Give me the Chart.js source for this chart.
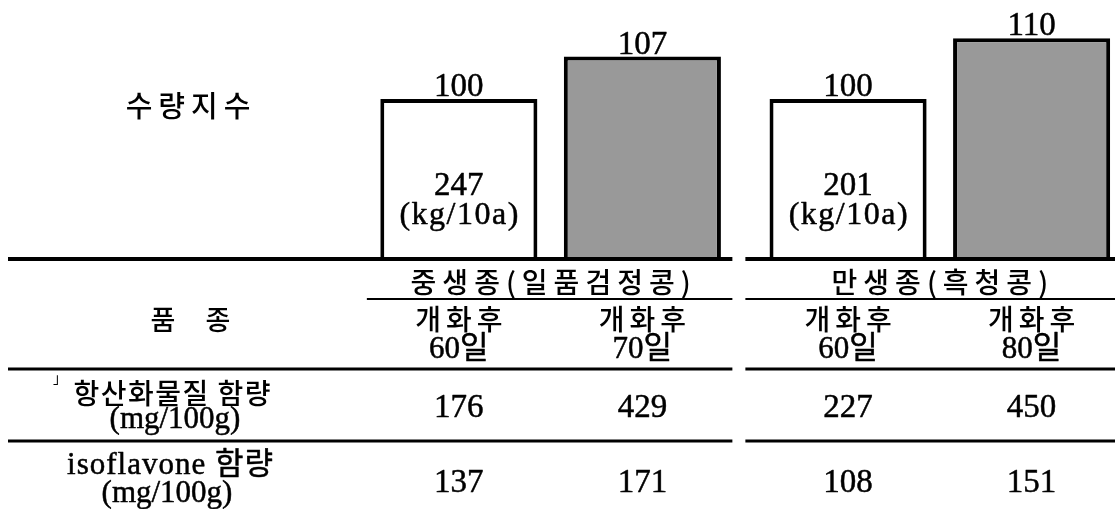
<!DOCTYPE html>
<html>
<head>
<meta charset="utf-8">
<script src="https://cdn.jsdelivr.net/npm/chart.js@4.4.1/dist/chart.umd.min.js"></script>
<style>
  html, body { margin: 0; padding: 0; background: #ffffff; overflow: hidden; }
  #wrap { width: 1115px; height: 509px; position: relative; }
  canvas { display: block; }
</style>
</head>
<body>
<div id="wrap"><canvas id="chart" width="1115" height="509"></canvas></div>
<script>
// Varieties (groups) and harvest stages
const groups = ['중생종(일품검정콩)', '만생종(흑청콩)'];
const stageEarly = ['60일', '60일'];
const stageLate = ['70일', '80일'];
const stagePrefix = '개화후';

// Yield index (early harvest = 100)
const yieldIndexEarly = [100, 100];
const yieldIndexLate = [107, 110];

// Actual yield of the early harvest
const yieldEarly = [247, 201];
const yieldUnit = '(kg/10a)';

// Table rows
const yieldTitle = '수량지수';
const varietyTitle = ['품', '종'];
const antioxLabel = ['항산화물질 함량', '(mg/100g)'];
const antioxEarly = [176, 227];
const antioxLate = [429, 450];
const isoLabel = ['isoflavone 함량', '(mg/100g)'];
const isoEarly = [137, 108];
const isoLate = [171, 151];

const SERIF = '"Liberation Serif", "Noto Sans CJK KR", serif';
const KR = '"Noto Sans CJK KR", "Liberation Serif", sans-serif';
const INK = '#000000';

// Centered text; "heavy" adds a thin outline to darken the serif strokes
function drawText(ctx, str, x, y, size, family, spacing, opts) {
  const o = opts || {};
  ctx.save();
  ctx.font = (o.weight || 'normal') + ' ' + size + 'px ' + family;
  ctx.fillStyle = INK;
  ctx.strokeStyle = INK;
  ctx.textAlign = 'center';
  ctx.textBaseline = o.baseline || 'middle';
  ctx.letterSpacing = (spacing || 0) + 'px';
  const cx = x + (spacing || 0) / 2;
  ctx.fillText(str, cx, y);
  if (o.heavy) {
    ctx.lineWidth = o.heavy;
    ctx.lineJoin = 'round';
    ctx.strokeText(str, cx, y);
  }
  ctx.restore();
}

function hLine(ctx, x1, x2, y, w) {
  ctx.save();
  ctx.strokeStyle = INK;
  ctx.lineWidth = w;
  ctx.beginPath();
  ctx.moveTo(x1, y);
  ctx.lineTo(x2, y);
  ctx.stroke();
  ctx.restore();
}

// Draws value labels, the yield inside the early bars and the table underneath
const tablePlugin = {
  id: 'tablePlugin',
  afterDraw(chart) {
    const ctx = chart.ctx;
    const early = chart.getDatasetMeta(0).data;
    const late = chart.getDatasetMeta(1).data;
    const base = chart.chartArea.bottom;
    const W = chart.width;
    const num = { heavy: 0.5 };

    // value labels above bars
    [early, late].forEach((bars, d) => {
      const vals = d === 0 ? yieldIndexEarly : yieldIndexLate;
      bars.forEach((b, i) => drawText(ctx, String(vals[i]), b.x, b.y - 3, 33, SERIF, 0, { baseline: 'alphabetic', heavy: 0.5 }));
    });

    // yield inside early bars
    early.forEach((b, i) => {
      drawText(ctx, String(yieldEarly[i]), b.x, base - 73, 33, SERIF, 0, num);
      drawText(ctx, yieldUnit, b.x, base - 43, 32, SERIF, 1.5, num);
    });

    // split point between the two groups
    const gapL = late[0].x + 90, gapR = gapL + 13;

    // horizontal rules
    hLine(ctx, 8, gapL, base, 4);
    hLine(ctx, gapR, W, base, 4);
    hLine(ctx, early[0].x - 92, gapL, 299, 2);
    hLine(ctx, gapR, W, 299, 2);
    hLine(ctx, 8, gapL, 369, 3);
    hLine(ctx, gapR, W, 369, 3);
    hLine(ctx, 8, gapL, 441, 3);
    hLine(ctx, gapR, W, 441, 3);

    const kr = { weight: 500 };

    // row titles
    drawText(ctx, yieldTitle, 188, 106, 29, KR, 6, kr);
    drawText(ctx, varietyTitle[0], 163, 320, 27, KR, 0, kr);
    drawText(ctx, varietyTitle[1], 218, 320, 27, KR, 0, kr);

    // group headers
    groups.forEach((g, i) => {
      const cx = (early[i].x + late[i].x) / 2;
      drawText(ctx, g, cx, 282, 28, KR, 6, kr);
    });

    // stage headers and values
    const cols = [];
    early.forEach((b, i) => cols.push({ x: b.x, stage: stageEarly[i], a: antioxEarly[i], s: isoEarly[i] }));
    late.forEach((b, i) => cols.push({ x: b.x, stage: stageLate[i], a: antioxLate[i], s: isoLate[i] }));
    cols.forEach(c => {
      drawText(ctx, stagePrefix, c.x, 319, 28, KR, 5, kr);
      drawText(ctx, c.stage, c.x, 350, 31, SERIF, 0, num);
      drawText(ctx, String(c.a), c.x, 408, 33, SERIF, 0, num);
      drawText(ctx, String(c.s), c.x, 483, 33, SERIF, 0, num);
    });

    // row labels
    drawText(ctx, '」', 60, 378, 14, KR, 0);
    drawText(ctx, antioxLabel[0], 172, 393, 28, KR, 1.5, kr);
    drawText(ctx, antioxLabel[1], 175, 420, 31, SERIF, 0, num);
    drawText(ctx, isoLabel[0], 170, 466, 31, SERIF, 1, num);
    drawText(ctx, isoLabel[1], 167, 494, 31, SERIF, 0, num);
  }
};

const toPoints = vals => vals.map((v, i) => ({ x: i, y: v }));

new Chart(document.getElementById('chart'), {
  type: 'bar',
  data: {
    datasets: [
      {
        label: '개화후 60일',
        data: toPoints(yieldIndexEarly),
        backgroundColor: '#ffffff',
        borderColor: '#000000',
        borderWidth: 4,
        borderSkipped: 'bottom'
      },
      {
        label: '개화후 70·80일',
        data: toPoints(yieldIndexLate),
        backgroundColor: '#999999',
        borderColor: '#000000',
        borderWidth: 4,
        borderSkipped: 'bottom'
      }
    ]
  },
  options: {
    responsive: false,
    animation: false,
    events: [],
    categoryPercentage: 0.943,
    barPercentage: 0.856,
    layout: { padding: { left: 356, right: 0, top: 0, bottom: 250 } },
    plugins: {
      legend: { display: false },
      tooltip: { enabled: false },
      title: { display: false }
    },
    scales: {
      x: {
        type: 'linear',
        display: false,
        offset: false,
        min: -0.5,
        max: 1.45,
        afterBuildTicks: scale => { scale.ticks = groups.map((g, i) => ({ value: i })); }
      },
      y: {
        display: false,
        min: 73.7,
        max: 116.3
      }
    }
  },
  plugins: [tablePlugin]
});
</script>
</body>
</html>
